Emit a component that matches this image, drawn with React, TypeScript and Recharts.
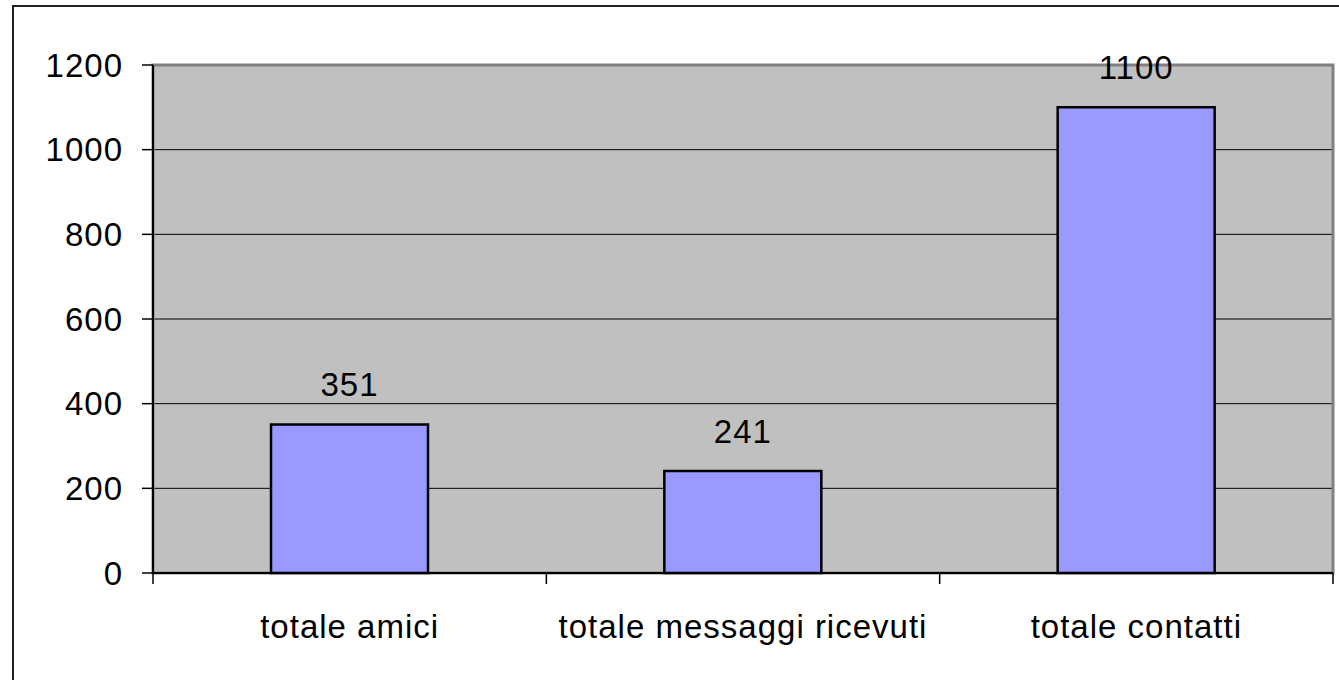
import React from "react";
import {
  Bar,
  BarChart,
  CartesianGrid,
  LabelList,
  ReferenceArea,
  XAxis,
  YAxis,
} from "recharts";

// values
const categories = ["totale amici", "totale messaggi ricevuti", "totale contatti"];
const totals = [351, 241, 1100];
const yTicks = [0, 200, 400, 600, 800, 1000, 1200];
const boundaryTicks = [0, 1, 2, 3];

const data = categories.map((name, i) => ({ name, value: totals[i], pos: i + 0.5 }));

const FONT = "'Liberation Sans', Arial, sans-serif";
const textStyle = { fontFamily: FONT, fontSize: 33, letterSpacing: 1, fill: "#000" };

export default function App() {
  return (
    <div style={{ position: "absolute", left: 0, top: 0, width: 1339, height: 680, background: "#fff" }}>
      <div
        style={{
          position: "absolute",
          left: 12,
          top: 5,
          width: 1340,
          height: 690,
          border: "2px solid #222",
          boxSizing: "border-box",
        }}
      />
      <BarChart
        width={1339}
        height={680}
        data={data}
        margin={{ top: 65, right: 6, left: 93, bottom: 105 }}
        barCategoryGap="30%"
        style={{ position: "absolute", left: 0, top: 0 }}
      >
        <CartesianGrid vertical={false} fill="#C0C0C0" stroke="#000" strokeWidth={1} />
        <ReferenceArea
          y1={0}
          y2={1200}
          xAxisId="cat"
          fill="none"
          stroke="#808080"
          strokeWidth={3}
          ifOverflow="visible"
        />
        {/* category boundary tick marks */}
        <XAxis
          xAxisId="bounds"
          type="number"
          dataKey="pos"
          domain={[0, 3]}
          ticks={boundaryTicks}
          interval={0}
          height={1}
          tickSize={11}
          tickFormatter={() => ""}
          axisLine={{ stroke: "#000", strokeWidth: 2 }}
          tickLine={{ stroke: "#000", strokeWidth: 1.5 }}
        />
        <XAxis
          xAxisId="cat"
          dataKey="name"
          height={1}
          axisLine={false}
          tickLine={false}
          tickSize={0}
          tickMargin={41}
          interval={0}
          tick={textStyle}
        />
        <YAxis
          width={60}
          domain={[0, 1200]}
          ticks={yTicks}
          interval={0}
          tickSize={11}
          tickMargin={19}
          axisLine={{ stroke: "#000", strokeWidth: 2 }}
          tickLine={{ stroke: "#000", strokeWidth: 1.5 }}
          tick={textStyle}
        />
        <Bar
          dataKey="value"
          xAxisId="cat"
          fill="#9999FF"
          stroke="#000"
          strokeWidth={2.5}
          isAnimationActive={false}
        >
          <LabelList dataKey="value" position="top" offset={28} style={textStyle} />
        </Bar>
      </BarChart>
    </div>
  );
}
